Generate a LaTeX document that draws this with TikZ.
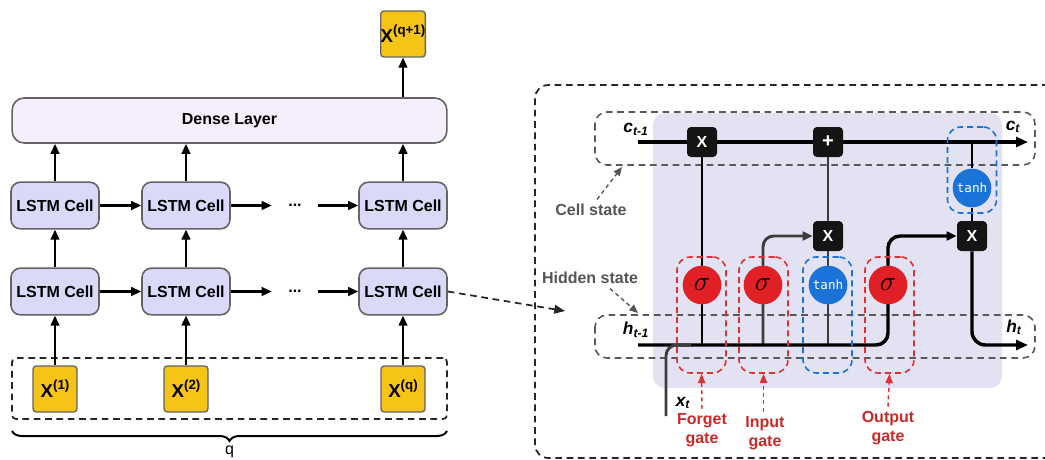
\documentclass[tikz,border=0pt]{standalone}
\usepackage{fontspec}
\setmainfont{Liberation Sans}
\newfontfamily\tanhfont{DejaVu Sans Mono}
\usetikzlibrary{arrows.meta,decorations.pathreplacing,calc}
\pgfdeclarelayer{back}
\pgfdeclarelayer{wires}
\pgfsetlayers{back,wires,main}

\definecolor{inyellow}{RGB}{245,196,22}
\definecolor{cellfill}{RGB}{218,218,248}
\definecolor{densefill}{RGB}{245,238,252}
\definecolor{boxedge}{RGB}{100,100,100}
\definecolor{coreshade}{RGB}{226,226,242}
\definecolor{gatered}{RGB}{224,32,36}
\definecolor{gatedash}{RGB}{222,50,50}
\definecolor{labelred}{RGB}{205,40,40}
\definecolor{tanhblue}{RGB}{26,115,215}
\definecolor{statetext}{RGB}{85,85,85}
\definecolor{wiregray}{RGB}{60,60,60}
\definecolor{opfill}{RGB}{20,20,20}

% superscript of the input/output vectors
\newcommand\xsup[1]{\raisebox{0.42em}{\fontsize{10}{10}\selectfont #1}}

\tikzset{
  lbl/.style={font=\fontsize{12}{14}\selectfont\bfseries},
  tip/.style={-{Triangle[length=7.5pt,width=6.5pt]}},
  bigtip/.style={-{Triangle[length=9pt,width=7.5pt]}},
  arr/.style={line width=1.6pt, tip},
  cellbox/.style={draw=boxedge, line width=1.2pt, fill=cellfill, rounded corners=7pt,
    minimum width=66pt, minimum height=35pt, inner sep=0pt, lbl},
  densebox/.style={draw=boxedge, line width=1.2pt, fill=densefill, rounded corners=9pt,
    minimum width=326pt, minimum height=33.75pt, lbl},
  vecbox/.style={draw=boxedge, line width=1pt, fill=inyellow, rounded corners=2.5pt,
    minimum width=33pt, minimum height=34.5pt, inner sep=0pt,
    font=\fontsize{14}{14}\selectfont\bfseries},
  dots/.style={minimum width=34.5pt, inner sep=0pt, lbl},
  framedash/.style={draw=black!85, line width=1.3pt, dash pattern=on 5pt off 3.5pt},
  statebox/.style={draw=black!65, line width=1.2pt, dash pattern=on 5pt off 3.5pt, rounded corners=9pt},
  gatebox/.style={draw=gatedash, line width=1.2pt, dash pattern=on 4.5pt off 3pt, rounded corners=10pt,
    minimum width=36.75pt, minimum height=87pt, inner sep=0pt},
  tanhbox/.style={gatebox, draw=tanhblue},
  sig/.style={circle, fill=gatered, minimum size=29pt, inner sep=0pt,
    font=\fontsize{22}{22}\selectfont},
  tanhc/.style={circle, fill=tanhblue, minimum size=29pt, inner sep=0pt, text=white,
    font=\tanhfont\fontsize{9.5}{9.5}\selectfont},
  op/.style={fill=opfill, rounded corners=3pt, minimum size=22.5pt, inner sep=0pt,
    text=white, lbl},
  cl/.style={line width=2.6pt},
  vl/.style={line width=2.2pt},
  statelbl/.style={lbl, text=statetext},
  statearr/.style={draw=statetext, line width=1pt, dash pattern=on 3pt off 2.5pt,
    -{Triangle[length=6.5pt,width=5.5pt]}},
  gatelbl/.style={lbl, text=labelred, align=center},
  gatearr/.style={draw=gatedash, line width=1.1pt, dash pattern=on 3pt off 2.5pt,
    -{Triangle[length=7pt,width=5.5pt]}},
  varlbl/.style={font=\fontsize{13}{13}\selectfont\bfseries\itshape},
}

\begin{document}
\begin{tikzpicture}[x=0.75pt,y=-0.75pt]
\useasboundingbox (0,0) rectangle (1045,460);

% ---------------- stacked LSTM network ----------------
\node[vecbox] (xq1) at (403,34) {X\xsup{(q+1)}};
\node[densebox] (dense) at (229.5,120.5) {Dense Layer};

\node[cellbox] (a1) at (55,205.5) {LSTM Cell};
\node[cellbox] (a2) at (186,205.5) {LSTM Cell};
\node[dots] (e1) at (295,205.5) {...};
\node[cellbox] (a3) at (403,205.5) {LSTM Cell};

\node[cellbox] (b1) at (55,291.5) {LSTM Cell};
\node[cellbox] (b2) at (186,291.5) {LSTM Cell};
\node[dots] (e2) at (295,291.5) {...};
\node[cellbox] (b3) at (403,291.5) {LSTM Cell};

\node[draw=black!85, line width=1.3pt, dash pattern=on 5pt off 3.5pt, rounded corners=3pt,
  minimum width=326.25pt, minimum height=45.75pt] (inputs) at (229.5,388.5) {};
\node[vecbox] (x1) at (55,389) {X\xsup{(1)}};
\node[vecbox] (x2) at (186,389) {X\xsup{(2)}};
\node[vecbox] (xq) at (403,389) {X\xsup{(q)}};

\draw[arr] (xq1.south |- dense.north) -- (xq1.south);
\foreach \c in {1,2,3} {
  \draw[arr] (a\c.north) -- (a\c.north |- dense.south);
  \draw[arr] (b\c.north) -- (a\c.south);
}
\draw[arr] (x1.north) -- (b1.south);
\draw[arr] (x2.north) -- (b2.south);
\draw[arr] (xq.north) -- (b3.south);

\draw[arr] (a1.east) -- (a2.west);
\draw[arr] (a2.east) -- (e1.west);
\draw[arr] (e1.east) -- (a3.west);
\draw[arr] (b1.east) -- (b2.west);
\draw[arr] (b2.east) -- (e2.west);
\draw[arr] (e2.east) -- (b3.west);

\draw[line width=1.5pt, decorate, decoration={brace, amplitude=7.5pt}] (447,431) -- (12,431);
\node[font=\fontsize{12}{12}\selectfont] (qlab) at (229.5,452) {q};

% link into the detailed cell
\coordinate (hin) at (565,311);
\draw[framedash, -{Triangle[length=8pt,width=6.5pt]}] (b3.east) -- (hin);

% ---------------- detailed LSTM cell ----------------
\draw[framedash, rounded corners=10pt] (1060,85) -- (535,85) -- (535,458) -- (1060,458);

\begin{pgfonlayer}{back}
  \fill[coreshade, rounded corners=9pt] (653,113) rectangle (1002,388);
  \draw[statebox] (595,112) rectangle (1035,165);
  \draw[statebox] (595,315) rectangle (1035,358);
\end{pgfonlayer}

\coordinate (cin) at (638,142);
\coordinate (cout) at (1028,142);
\coordinate (hL) at (638,345);
\coordinate (hR) at (1028,345);
\coordinate (xin) at (666,416);

\node[op] (fx) at (702,142) {X};
\node[op, font=\fontsize{15}{15}\selectfont\bfseries] (plus) at (828,142) {+};
\node[op] (mi) at (828,236) {X};
\node[op] (mo) at (972,236) {X};

\node[sig] (sf) at (702,285) {$\sigma$};
\node[sig] (si) at (763,285) {$\sigma$};
\node[tanhc] (tg) at (828,285) {tanh};
\node[sig] (so) at (888,285) {$\sigma$};
\node[tanhc] (tc) at (972,188) {tanh};

\node[gatebox] (fgate) at (701.5,315) {};
\node[gatebox] (igate) at (763.5,315) {};
\node[tanhbox] (ggate) at (827.5,315) {};
\node[gatebox] (ogate) at (889.5,315) {};
\node[tanhbox, minimum height=64.5pt] (cgate) at (972,170) {};

\begin{pgfonlayer}{wires}
  % cell state
  \draw[cl, bigtip] (cin) -- (cout);
  % forget gate
  \draw[vl] (fx.center) -- (fx.center |- hL);
  % input gate
  \draw[vl, wiregray, rounded corners=8pt, tip] (si |- hL) -- (si |- mi) -- (mi.west);
  % candidate values
  \draw[vl, wiregray] (tg |- hL) -- (mi.south);
  \draw[vl, wiregray] (mi.north) -- (plus.south);
  % hidden state feeding the output gate
  \draw[cl, rounded corners=9pt, tip] (hL) -- (hL -| so) -- (so |- mo) -- (mo.west);
  % current input
  \draw[vl, wiregray, rounded corners=8pt] (xin) -- (xin |- hL) -- ($(xin |- hL)+(25,0)$);
  % output
  \draw[vl] (tc.north) -- (tc |- cin);
  \draw[vl] (mo.north) -- (tc.south);
  \draw[cl, rounded corners=10pt, bigtip] (mo.south) -- (mo |- hR) -- (hR);
\end{pgfonlayer}

\node[varlbl] (cprev) at (636,129) {c\textsubscript{t-1}};
\node[varlbl] (cnext) at (1013,127) {c\textsubscript{t}};
\node[varlbl] (hprev) at (636,330) {h\textsubscript{t-1}};
\node[varlbl] (hnext) at (1014,327) {h\textsubscript{t}};
\node[varlbl] (xlab) at (683,403) {x\textsubscript{t}};

\node[statelbl] (cstate) at (591,210) {Cell state};
\node[statelbl] (hstate) at (590,278) {Hidden state};
\coordinate (cstip) at (622,167);
\coordinate (hstip) at (638,313);
\draw[statearr] ($(cstate.north)+(6,0)$) -- (cstip);
\draw[statearr] ($(hstate.south)+(20,0)$) -- (hstip);

\node[gatelbl] (flab) at (702,430) {Forget\\gate};
\node[gatelbl] (ilab) at (765,433) {Input\\gate};
\node[gatelbl] (olab) at (888,428) {Output\\gate};
\draw[gatearr] (flab.north) -- (fgate.south);
\draw[gatearr] (ilab.north -| igate) -- (igate.south);
\draw[gatearr] (olab.north) -- (ogate.south);
\end{tikzpicture}
\end{document}
